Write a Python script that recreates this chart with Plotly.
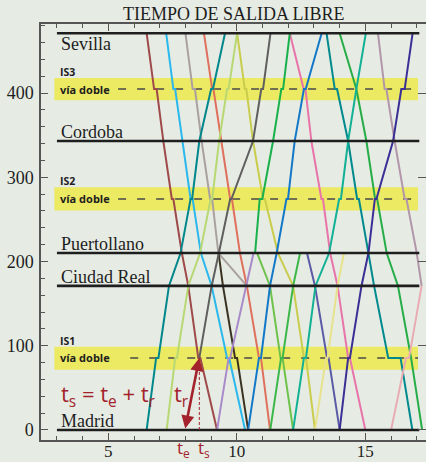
import plotly.graph_objects as go

# ---- station / loop levels (km) ----
S, IS3, C, IS2, P, CR, IS1, M = 471, 404.7, 343, 274.2, 210, 171, 85.5, 0

station_names = ["Sevilla", "Cordoba", "Puertollano", "Ciudad Real", "Madrid"]
station_km = [S, C, P, CR, M]

loop_names = ["IS3", "IS2", "IS1"]
loop_km = [IS3, IS2, IS1]
loop_low = [391.3, 260.6, 71.6]
loop_high = [417.8, 288.0, 98.9]
loop_dash_start = [5.38, 5.38, 5.85]

# ---- paths ----
DOWN = [S, IS3, IS3, C, IS2, IS2, P, CR, IS1, IS1, M]
UP = [M, IS1, IS1, CR, P, IS2, IS2, C, IS3, IS3, S]
DOWN_S_CR = [S, IS3, IS3, C, IS2, IS2, P, CR]
DOWN_P_M = [P, CR, IS1, IS1, M]
UP_M_P = [M, IS1, IS1, CR, P]
UP_P_S = [P, IS2, IS2, C, IS3, IS3, S]
UP_IS1_S = [IS1, CR, P, IS2, IS2, C, IS3, IS3, S]
UP_M_CR = [M, IS1, IS1, CR]

# ---- train times (h) ----
brown_t = [6.49, 6.78, 6.88, 7.14, 7.47, 7.53, 7.86, 8.11, 8.50, 8.58, 9.23]
lightblue_t = [7.25, 7.53, 7.60, 7.89, 8.20, 8.28, 8.60, 9.02, 9.62, 9.70, 10.32]
gray_t = [8.00, 8.28, 8.37, 8.63, 8.96, 9.04, 9.28, 10.39]
salmon_t = [8.72, 9.04, 9.09, 9.40, 9.74, 9.81, 10.12, 10.39, 10.86, 10.94, 11.29]
olive_t = [10.01, 10.31, 10.37, 10.63, 11.02, 11.09, 11.60, 12.19, 12.61, 12.69, 13.04]
pink_t = [12.06, 12.60, 12.67, 12.90, 13.29, 13.35, 13.63, 13.92, 14.33, 14.40, 15.00]
tealdown_t = [13.49, 13.81, 13.90, 14.33, 14.68, 14.75, 15.12, 15.34, 15.89, 16.37, 16.83]
greendown_t = [14.00, 14.65, 14.65, 15.04, 15.38, 15.46, 15.83, 16.27, 16.78, 16.78, 17.21]
mauve_t = [15.49, 15.75, 15.82, 16.14, 16.53, 16.60, 17.00, 17.19]
blackbrown_t = [9.29, 9.46, 9.93, 10.01, 10.44]
lime_t = [10.79, 11.29, 11.70, 11.78, 12.19]
slate_t = [12.73, 13.04, 13.51, 13.57, 14.00]

tealup_t = [6.49, 6.86, 6.95, 7.36, 7.81, 8.20, 8.26, 8.54, 9.00, 9.07, 9.54]
lightgreen_t = [7.27, 7.60, 7.67, 8.11, 8.57, 8.98, 9.04, 9.31, 9.62, 9.68, 10.01]
darkgray_t = [8.54, 9.02, 9.30, 9.74, 9.79, 10.63, 10.95, 11.02, 11.31]
blue_t = [10.44, 10.86, 10.94, 11.29, 11.55, 11.93, 11.99, 12.25, 12.61, 12.68, 13.30]
tealgreen_t = [12.19, 12.61, 12.69, 13.06, 13.59, 13.98, 14.05, 14.33, 14.65, 14.65, 15.02]
indigo_t = [14.00, 14.33, 14.40, 14.85, 15.12, 15.37, 15.43, 16.08, 16.40, 16.53, 16.84]
lavender_t = [9.23, 9.68, 9.74, 10.38, 10.65]
greenup_t = [10.71, 10.89, 10.99, 11.41, 11.73, 11.80, 12.06]
greenmp_t = [11.30, 11.72, 11.78, 12.19, 12.46]
paleyellow_t = [13.04, 13.47, 13.53, 13.92, 14.17]
lightpink_t = [16.00, 16.58, 16.70, 17.19]

t_e, t_s = 7.98, 8.54

trains = [
    (brown_t, DOWN, "#9e4a4a"),
    (lightblue_t, DOWN, "#2bb8ec"),
    (gray_t, DOWN_S_CR, "#aaa0a0"),
    (salmon_t, DOWN, "#e0705e"),
    (olive_t, DOWN, "#c9cc4c"),
    (pink_t, DOWN, "#e874aa"),
    (tealdown_t, DOWN, "#008a8e"),
    (greendown_t, DOWN, "#26ad48"),
    (mauve_t, DOWN_S_CR, "#b296aa"),
    (blackbrown_t, DOWN_P_M, "#3b3322"),
    (lime_t, DOWN_P_M, "#6ec24b"),
    (slate_t, DOWN_P_M, "#5b5aa6"),
    (tealup_t, UP, "#00878c"),
    (lightgreen_t, UP, "#b7d873"),
    (darkgray_t, UP_IS1_S, "#5f5f5f"),
    (blue_t, UP, "#1478c8"),
    (tealgreen_t, UP, "#12b095"),
    (indigo_t, UP, "#3b2f96"),
    (lavender_t, UP_M_P, "#a98bc9"),
    (greenup_t, UP_P_S, "#19b14b"),
    (greenmp_t, UP_M_P, "#3cb84a"),
    (paleyellow_t, UP_M_P, "#e9e28c"),
    (lightpink_t, UP_M_CR, "#e9acb2"),
]

BG = "#e6ece4"
AX = "#555555"
RED = "#a3222b"
SERIF = "Liberation Serif"
SANS = "Open Sans"

fig = go.Figure()

for tt, yy, col in trains:
    fig.add_trace(go.Scatter(x=tt, y=yy, mode="lines", line=dict(color=col, width=2),
                             hoverinfo="skip", showlegend=False))

for km in station_km:
    fig.add_trace(go.Scatter(x=[3.0, 17.1], y=[km, km], mode="lines",
                             line=dict(color="#1e1e1e", width=2.6),
                             hoverinfo="skip", showlegend=False))

# invisible trace for right axis ticks
fig.add_trace(go.Scatter(x=[3], y=[0], yaxis="y2", mode="markers",
                         marker=dict(opacity=0), hoverinfo="skip", showlegend=False))

shapes = []
for lo, hi, km, x0 in zip(loop_low, loop_high, loop_km, loop_dash_start):
    shapes.append(dict(type="rect", xref="x", yref="y", x0=2.9, x1=17.05, y0=lo, y1=hi,
                       fillcolor="#ece962", line=dict(width=0), layer="below"))
    shapes.append(dict(type="line", xref="x", yref="y", x0=x0, x1=17.05, y0=km, y1=km,
                       line=dict(color="#4a4a4a", width=1.4, dash="8px,11px"), layer="below"))
shapes.append(dict(type="line", xref="x", yref="y", x0=t_s, x1=t_s, y0=0, y1=IS1,
                   line=dict(color=RED, width=1, dash="3px,2px")))

ann = []
for name, km in zip(station_names, station_km):
    if km == S:
        ann.append(dict(x=3.08, y=km, xref="x", yref="y", text=name, showarrow=False,
                        xanchor="left", yanchor="top", yshift=1,
                        font=dict(family=SERIF, size=18, color="#1e1e1e")))
    else:
        ann.append(dict(x=3.08, y=km, xref="x", yref="y", text=name, showarrow=False,
                        xanchor="left", yanchor="bottom", yshift=-3,
                        font=dict(family=SERIF, size=18, color="#1e1e1e")))
for name, km, hi in zip(loop_names, loop_km, loop_high):
    ann.append(dict(x=3.05, y=hi, xref="x", yref="y", text="<b>" + name + "</b>",
                    showarrow=False, xanchor="left", yanchor="bottom", yshift=-3,
                    font=dict(family=SANS, size=10.5, color="#1e1e1e")))
    ann.append(dict(x=3.05, y=km, xref="x", yref="y", text="<b>vía doble</b>",
                    showarrow=False, xanchor="left", yanchor="middle",
                    font=dict(family=SANS, size=11, color="#1e1e1e")))

ann.append(dict(x=0.5, y=1, xref="paper", yref="paper", text="TIEMPO DE SALIDA LIBRE",
                showarrow=False, xanchor="center", yanchor="bottom", yshift=-2,
                font=dict(family=SERIF, size=18, color="#1e1e1e")))

ann.append(dict(x=5.0, y=42, xref="x", yref="y",
                text="t<sub>s</sub> = t<sub>e</sub> + t<sub>r</sub>",
                showarrow=False, xanchor="center", yanchor="middle",
                font=dict(family=SANS, size=22, color=RED)))
ann.append(dict(x=7.83, y=42, xref="x", yref="y", text="t<sub>r</sub>",
                showarrow=False, xanchor="center", yanchor="middle",
                font=dict(family=SANS, size=22, color=RED)))
ann.append(dict(x=7.92, y=-22 / 416, xref="x", yref="paper", text="t<sub>e</sub>",
                showarrow=False, xanchor="center", yanchor="bottom", borderpad=0,
                font=dict(family=SANS, size=17, color=RED)))
ann.append(dict(x=8.74, y=-22 / 416, xref="x", yref="paper", text="t<sub>s</sub>",
                showarrow=False, xanchor="center", yanchor="bottom", borderpad=0,
                font=dict(family=SANS, size=17, color=RED)))
ann.append(dict(x=t_s, y=IS1, ax=t_e, ay=0, xref="x", yref="y", axref="x", ayref="y",
                text="", showarrow=True, arrowhead=2, arrowside="end+start",
                arrowsize=1, arrowwidth=2.6, arrowcolor=RED, standoff=0, startstandoff=0))

fig.update_layout(
    width=426, height=462,
    margin=dict(l=41, r=0, t=24, b=22, autoexpand=False),
    paper_bgcolor=BG, plot_bgcolor=BG,
    shapes=shapes, annotations=ann,
    xaxis=dict(range=[2.38, 17.36], showgrid=False, zeroline=False, automargin=False,
               showline=True, linecolor=AX, linewidth=1.5, mirror="ticks",
               ticks="inside", tickmode="linear", tick0=0, dtick=5,
               ticklen=7, tickcolor=AX, tickwidth=1.2, ticklabelstandoff=-5,
               minor=dict(ticks="inside", tickmode="linear", tick0=0, dtick=1,
                          ticklen=4, tickcolor=AX, tickwidth=1.2),
               tickfont=dict(family=SERIF, size=17, color="#1e1e1e")),
    yaxis=dict(range=[-11.9, 481.9], showgrid=False, zeroline=False, automargin=False,
               showline=True, linecolor=AX, linewidth=1.5,
               ticks="inside", tickmode="linear", tick0=0, dtick=100,
               ticklen=7, tickcolor=AX, tickwidth=1.2, ticklabelstandoff=2,
               minor=dict(ticks="inside", tickmode="linear", tick0=0, dtick=20,
                          ticklen=4, tickcolor=AX, tickwidth=1.2),
               tickfont=dict(family=SERIF, size=18, color="#1e1e1e")),
    yaxis2=dict(range=[-11.9, 481.9], overlaying="y", side="right", automargin=False,
                showgrid=False, zeroline=False, showline=False,
                ticks="inside", tickmode="linear", tick0=0, dtick=100,
                ticklen=8, tickcolor=AX, showticklabels=False),
)

fig.write_html(
    "out.html",
    config={"displayModeBar": False},
    post_script="document.body.style.margin='0';document.body.style.background='" + BG + "';",
)
